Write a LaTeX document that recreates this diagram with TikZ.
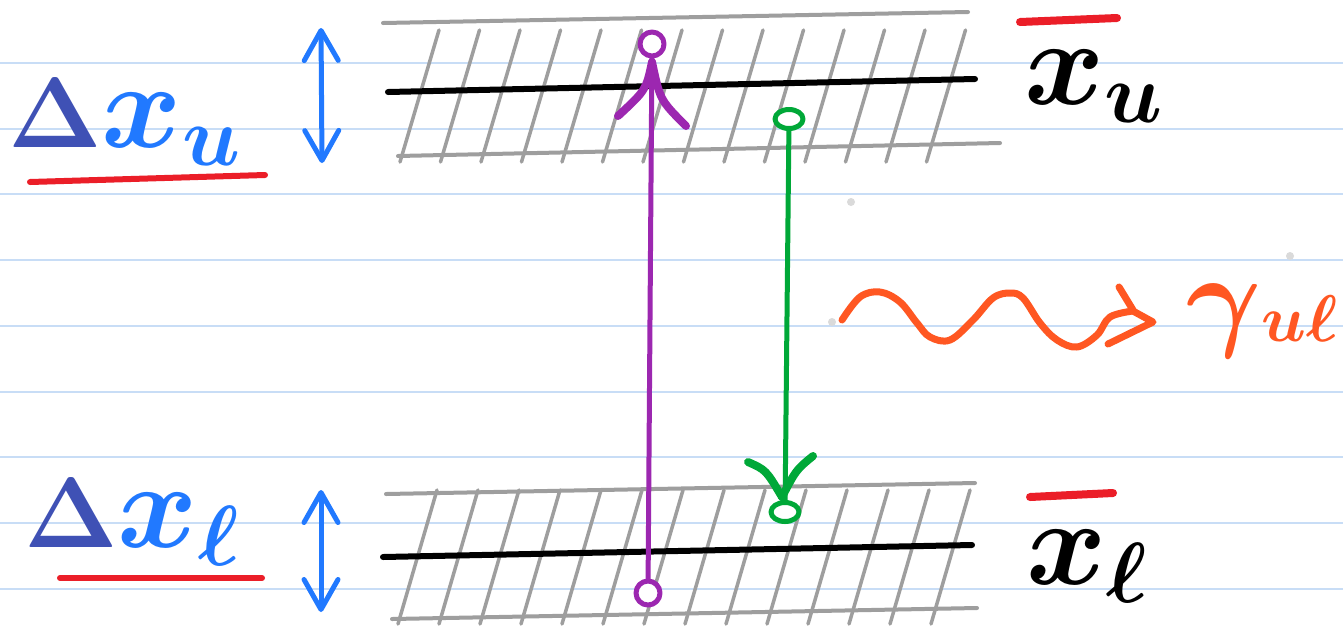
\RequirePackage{fix-cm}
\documentclass[tikz,border=0pt]{standalone}
\usetikzlibrary{arrows.meta,shapes.geometric}
\definecolor{ruled}{RGB}{200,221,246}
\definecolor{hatch}{RGB}{158,158,158}
\definecolor{pur}{RGB}{156,39,176}
\definecolor{grn}{RGB}{0,168,56}
\definecolor{lblue}{RGB}{33,121,255}
\definecolor{dblue}{RGB}{63,81,181}
\definecolor{redbar}{RGB}{235,30,40}
\definecolor{orng}{RGB}{255,87,34}
\definecolor{dotgray}{RGB}{218,218,218}
\newcommand{\fs}[1]{\fontsize{#1}{#1}\selectfont}
\begin{document}
\begin{tikzpicture}[x=1pt,y=-1pt,line cap=round,line join=round,
  ruleline/.style={draw=ruled,line width=2pt},
  bandedge/.style={draw=hatch,line width=4pt},
  levelline/.style={draw=black,line width=6pt},
  hatchline/.style={draw=hatch,line width=3.5pt},
  underbar/.style={draw=redbar,line width=6pt},
  overbar/.style={draw=redbar,line width=8pt},
  pcirc/.style={circle,draw=pur,line width=5pt,fill=white,minimum size=24pt,inner sep=0pt},
  gcirc/.style={ellipse,draw=grn,line width=5pt,fill=white,minimum width=28pt,minimum height=19pt,inner sep=0pt},
  dblarrow/.style={draw=lblue,line width=5pt,{Straight Barb[length=30pt,width=34pt,round]}-{Straight Barb[length=30pt,width=34pt,round]}},
  biglabel/.style={font=\boldmath,inner sep=0pt},
]
\useasboundingbox (0,0) rectangle (1343,641);
\fill[white] (0,0) rectangle (1343,641);
% ruled notebook lines
\foreach \y in {63,128.7,194.4,260,325.8,391.5,457.2,523,588.6}
  \draw[ruleline] (-5,\y) -- (1350,\y);
% small specks
\fill[dotgray] (851,202) circle (4);
\fill[dotgray] (1290,256) circle (4);
\fill[dotgray] (832,322) circle (4);
% upper band
\foreach \i in {0,...,13}
  \draw[hatchline] ({400+40.5*\i},162) -- ({439+40.5*\i},30);
\draw[bandedge] (383,23) -- (968,12);
\draw[bandedge] (398,156) -- (1000,143);
\draw[levelline] (388,92) -- (975,79);
% lower band
\foreach \i in {0,...,13}
  \draw[hatchline] ({398+41*\i},624) -- ({437+41*\i},490);
\draw[bandedge] (386,494) -- (975,483);
\draw[bandedge] (392,619) -- (977,608);
\draw[levelline] (383,557) -- (972,545);
% purple transition (up)
\node[pcirc] (pb) at (648,593) {};
\node[pcirc] (pt) at (652,44) {};
\draw[pur,line width=5pt] (pb) -- (pt);
\coordinate (ph) at (652,62);
\draw[pur,line width=8pt] (ph) .. controls (646,90) .. (618,116);
\draw[pur,line width=8pt] (ph) .. controls (660,100) .. (686,126);
% green transition (down)
\node[gcirc] (gt) at (789,119) {};
\node[gcirc] (gb) at (785,512) {};
\draw[grn,line width=5pt] (gt) -- (gb);
\coordinate (gh) at (782,497);
\draw[grn,line width=8pt] (748,462) .. controls (766,470) .. (gh);
\draw[grn,line width=8pt] (813,456) .. controls (796,470) .. (gh);
% blue double arrows
\coordinate (ua) at (321,28);
\coordinate (ub) at (322,163);
\draw[dblarrow] (ua) -- (ub);
\coordinate (la) at (321,490);
\coordinate (lb) at (321,612);
\draw[dblarrow] (la) -- (lb);
% left labels
\node[biglabel,anchor=base west] (dxu) at (8,147) {\textcolor{dblue}{\fs{100}$\Delta$}\textcolor{lblue}{\fs{122}$x_u$}};
\draw[underbar] (30,182) -- (265,175);
\node[biglabel,anchor=base west] (dxl) at (24,547) {\textcolor{dblue}{\fs{100}$\Delta$}\textcolor{lblue}{\fs{122}$x_\ell$}};
\draw[underbar] (60,578) -- (262,578);
% right labels
\node[biglabel,anchor=base west,font=\boldmath\fs{122}] (xu) at (1024,104) {$x_u$};
\draw[overbar] (1020,22) -- (1117,18);
\node[biglabel,anchor=base west,font=\boldmath\fs{122}] (xl) at (1026,584) {$x_\ell$};
\draw[overbar] (1030,497) -- (1113,493);
% photon
\draw[orng,line width=7pt] plot[smooth,tension=0.6] coordinates {(842,320) (860,297) (880,292) (900,302) (917,323) (930,337) (950,340) (973,320) (993,298) (1010,293) (1023,298) (1040,323) (1057,340) (1077,347) (1097,335) (1110,317) (1133,311)};
\coordinate (tip) at (1153,322);
\draw[orng,line width=7pt] (1133,311) -- (tip) -- (1108,344);
\draw[orng,line width=7pt] (1119,287) -- (1133,310);
\node[biglabel,anchor=base west,text=orng] (gam) at (1186,335) {\fs{115}$\gamma$\raisebox{-6pt}{\fs{66}$u\ell$}};
\end{tikzpicture}
\end{document}
